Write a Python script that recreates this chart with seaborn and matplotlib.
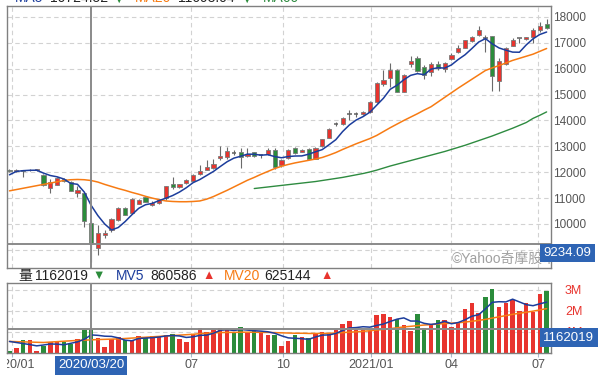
import numpy as np
import pandas as pd
import matplotlib
matplotlib.use("Agg")
import matplotlib.pyplot as plt
import matplotlib.transforms as mtransforms
import seaborn as sns

# Weekly TAIEX candles, week of 2019/12/27 .. 2021/07/09
opens = [12090, 12030, 12060, 12070, 12080, 11900, 11380, 11520, 11750, 11620,
         11200, 11200, 10050, 9070, 9590, 9770, 10140, 10610, 10410, 10770,
         11030, 10740, 10820, 10990, 11530, 11410, 11590, 11670, 11950, 12080,
         12150, 12540, 12590, 12750, 12770, 12615, 12770, 12650, 12690, 12850,
         12260, 12540, 12950, 12800, 12900, 12530, 13000, 13335, 13860, 13850,
         14240, 14240, 14260, 14320, 14700, 15400, 15630, 15960, 15115, 16165,
         16425, 16050, 15860, 16180, 15990, 16370, 16630, 16810, 17065, 17320,
         17190, 17250, 15510, 16180, 16890, 17170, 17140, 17240, 17475, 17720]
highs = [12130, 12130, 12090, 12110, 12130, 11940, 11720, 11830, 11780, 11650,
         11450, 11250, 10100, 9950, 9770, 10230, 10650, 10640, 11000, 10970,
         11060, 10890, 10960, 11470, 11800, 11560, 11720, 11940, 12260, 12480,
         12500, 13030, 12970, 12840, 12950, 12950, 12800, 12720, 12950, 12950,
         12520, 12900, 12980, 12890, 12950, 12960, 13300, 13700, 13950, 14120,
         14420, 14330, 14360, 14740, 15480, 15960, 16220, 16000, 15800, 16475,
         16480, 16150, 16260, 16300, 16260, 16600, 16900, 17120, 17280, 17630,
         17320, 17250, 16410, 16850, 17200, 17200, 17230, 17580, 17810, 17920]
lows = [12010, 12000, 11820, 12040, 12050, 11460, 11180, 11500, 11640, 11270,
        11060, 9880, 8520, 8810, 9470, 9680, 10120, 10330, 10390, 10760,
        10850, 10710, 10770, 10940, 11340, 11390, 11560, 11650, 11880, 12070,
        12130, 12490, 12530, 12680, 12150, 12580, 12600, 12550, 12660, 12140,
        12200, 12510, 12720, 12770, 12500, 12500, 12980, 13320, 13780, 13830,
        14030, 14140, 14220, 14300, 14680, 15350, 15280, 15080, 15090, 16050,
        15880, 15600, 15700, 15950, 15860, 16350, 16600, 16780, 17040, 17270,
        16630, 15150, 15150, 16150, 16870, 17000, 17120, 17010, 17420, 17550]
closes = [12040, 12100, 12050, 12090, 12110, 11500, 11620, 11780, 11680, 11290,
          11320, 10130, 9234.09, 9670, 9660, 10180, 10600, 10350, 10970, 10920,
          10860, 10830, 10920, 11460, 11420, 11530, 11690, 11900, 12050, 12200,
          12310, 12640, 12820, 12750, 12570, 12720, 12620, 12650, 12850, 12200,
          12490, 12850, 12740, 12870, 12530, 12950, 13280, 13680, 13860, 14100,
          14240, 14240, 14330, 14700, 15450, 15580, 15960, 15115, 15760, 16295,
          15910, 15760, 16180, 16040, 16220, 16525, 16810, 17090, 17240, 17475,
          17190, 15700, 16300, 16810, 17100, 17170, 17215, 17475, 17650, 17580]

ma5 = [11900, 12030, 12060, 12075, 12078, 11967, 11873, 11823, 11737, 11569,
       11534, 11234, 10724, 10325, 10001, 9769, 9864, 10091, 10356, 10604,
       10744, 10796, 10906, 10996, 11100, 11234, 11400, 11596, 11718, 11874,
       12030, 12220, 12404, 12544, 12617, 12699, 12694, 12658, 12678, 12605,
       12559, 12606, 12626, 12630, 12696, 12788, 12874, 13062, 13258, 13572,
       13828, 14018, 14148, 14318, 14588, 14858, 15204, 15361, 15573, 15742,
       15808, 15768, 15981, 16037, 16022, 16145, 16355, 16537, 16777, 17028,
       17161, 16959, 16801, 16715, 16640, 16635, 16918, 17153, 17321, 17416]
ma20 = [11280, 11330, 11380, 11430, 11480, 11530, 11580, 11630, 11680, 11710,
        11720, 11710, 11680, 11620, 11530, 11450, 11370, 11300, 11220, 11150,
        11070, 11000, 10940, 10890, 10870, 10860, 10860, 10870, 10890, 10960,
        11060, 11180, 11300, 11430, 11560, 11690, 11800, 11920, 12030, 12140,
        12230, 12300, 12360, 12410, 12460, 12510, 12570, 12660, 12760, 12880,
        12990, 13100, 13200, 13300, 13420, 13570, 13720, 13860, 14000, 14130,
        14260, 14400, 14530, 14710, 14890, 15070, 15250, 15420, 15590, 15760,
        15930, 16030, 16120, 16220, 16320, 16400, 16480, 16560, 16670, 16780]
ma60_start = 36
ma60 = [11370, 11400, 11430, 11460, 11490, 11520, 11550, 11580, 11610, 11640,
        11680, 11720, 11760, 11800, 11850, 11900, 11950, 12010, 12080, 12160,
        12240, 12310, 12380, 12450, 12520, 12590, 12660, 12730, 12800, 12880,
        12960, 13040, 13130, 13220, 13310, 13400, 13500, 13600, 13700, 13810,
        13920, 14080, 14200, 14330]

# weekly volume, millions
volume = [0.11, 0.23, 0.63, 0.63, 0.10, 0.31, 0.50, 0.56, 0.50, 0.44,
          0.66, 1.11, 1.162019, 0.73, 0.27, 0.66, 0.76, 0.63, 0.60, 0.82,
          0.76, 0.82, 0.79, 0.85, 0.92, 0.66, 0.50, 0.92, 1.19, 0.98,
          1.11, 1.19, 1.08, 0.98, 1.24, 0.95, 1.03, 0.98, 0.87, 0.87,
          0.34, 0.55, 0.87, 0.76, 0.71, 0.92, 0.98, 0.95, 1.11, 1.40,
          1.50, 1.11, 1.11, 1.03, 1.79, 1.85, 1.73, 1.63, 1.35, 1.03,
          1.84, 1.19, 1.40, 1.56, 1.56, 1.24, 1.47, 2.08, 2.40, 1.89,
          2.65, 3.05, 2.21, 2.37, 2.53, 2.00, 2.40, 1.95, 2.80, 2.97]
vol_ma5 = [0.55, 0.50, 0.45, 0.40, 0.34, 0.38, 0.43, 0.42, 0.39, 0.46,
           0.53, 0.65, 0.86, 0.84, 0.80, 0.79, 0.72, 0.61, 0.58, 0.69,
           0.71, 0.73, 0.76, 0.81, 0.83, 0.81, 0.74, 0.77, 0.84, 0.85,
           0.94, 1.08, 1.11, 1.07, 1.12, 1.09, 1.06, 1.04, 1.01, 0.94,
           0.82, 0.72, 0.70, 0.68, 0.65, 0.76, 0.85, 0.86, 0.93, 1.07,
           1.19, 1.21, 1.25, 1.23, 1.31, 1.38, 1.50, 1.61, 1.67, 1.52,
           1.52, 1.41, 1.36, 1.40, 1.51, 1.39, 1.45, 1.58, 1.75, 1.82,
           2.10, 2.41, 2.44, 2.43, 2.56, 2.43, 2.30, 2.25, 2.34, 2.42]
vol_ma20 = [0.55, 0.54, 0.53, 0.52, 0.51, 0.50, 0.52, 0.54, 0.56, 0.58,
            0.60, 0.61, 0.625, 0.64, 0.65, 0.66, 0.67, 0.69, 0.71, 0.73,
            0.75, 0.77, 0.79, 0.81, 0.83, 0.85, 0.87, 0.89, 0.92, 0.94,
            0.96, 0.97, 0.98, 0.98, 0.99, 0.99, 0.99, 0.98, 0.98, 0.97,
            0.96, 0.95, 0.94, 0.94, 0.93, 0.93, 0.93, 0.94, 0.95, 0.97,
            0.99, 1.01, 1.03, 1.06, 1.09, 1.12, 1.16, 1.20, 1.24, 1.27,
            1.30, 1.33, 1.35, 1.38, 1.40, 1.42, 1.44, 1.47, 1.51, 1.55,
            1.60, 1.66, 1.72, 1.78, 1.84, 1.89, 1.94, 1.99, 2.05, 2.11]

tick_labels = ["2020/01", "07", "10", "2021/01", "04", "07"]
tick_pos = [0.32, 26.7, 40.2, 53.2, 65.0, 77.8]
cross_week = 12
cross_date = "2020/03/20"

RED = "#e8342e"
GREEN = "#2b8c3b"
GRAY = "#606060"
BLUE = "#1c3d9c"
ORANGE = "#f77b13"
MA60_GREEN = "#2e8b40"
BOX = "#2e64b4"
GRID = "#d2d2d2"
FRAME = "#808080"

sns.set_theme(style="white")
plt.rcParams["font.family"] = ["Liberation Sans", "Noto Sans CJK TC", "DejaVu Sans"]

df = pd.DataFrame({"open": opens, "high": highs, "low": lows,
                   "close": closes, "vol": volume})
idx = np.arange(len(df))
up = (df.close > df.open).values
down = (df.close < df.open).values
flat = ~(up | down)
prev = df.close.shift(1).fillna(df.close.iloc[0]).values
cand_col = np.where(up, RED, GREEN)
vol_col = np.where(up, RED, np.where(down, GREEN,
                   np.where(df.close.values >= prev, RED, GREEN)))

W, H = 600, 385
fig = plt.figure(figsize=(W / 100, H / 100), dpi=100)
L, R = 7.3, 550.7
ax = fig.add_axes([L / W, 1 - 268 / H, (R - L) / W, (268 - 5.7) / H])
axv = fig.add_axes([L / W, 1 - 353 / H, (R - L) / W, (353 - 283) / H])

# ---- price panel
ax.vlines(idx, df.low, df.high, color="#6a6a6a", lw=0.8, zorder=2)
body_lo = np.minimum(df.open, df.close).values
body_h = np.maximum(np.abs(df.close - df.open).values, 20)
ax.bar(idx[~flat], body_h[~flat], bottom=body_lo[~flat], width=0.62,
       color=cand_col[~flat], edgecolor="#7a7a7a", lw=0.6, zorder=3)
ax.hlines(df.close[flat], idx[flat] - 0.33, idx[flat] + 0.33,
          color=GRAY, lw=1.1, zorder=3)

sns.lineplot(x=idx, y=ma20, ax=ax, color=ORANGE, lw=1.1, zorder=4)
sns.lineplot(x=idx[ma60_start:], y=ma60, ax=ax, color=MA60_GREEN, lw=1.0, zorder=4)
sns.lineplot(x=idx, y=ma5, ax=ax, color=BLUE, lw=1.1, zorder=4)

ax.set_xlim(-0.32, 79.6)
ax.set_ylim(8300, 18433)
yt = list(range(9000, 18001, 1000))
ax.set_yticks(yt)
# the 9000 label sits under the crosshair price box
ax.set_yticklabels(["" if v == 9000 else str(v) for v in yt])
ax.yaxis.tick_right()
ax.tick_params(axis="y", length=0, pad=1.7, labelsize=8.5, labelcolor="#555555")
ax.set_xticks(tick_pos)
ax.tick_params(axis="x", length=0, labelbottom=False)
ax.grid(True, color=GRID, ls=(0, (4, 3)), lw=0.8)
ax.set_xlabel("")
ax.set_ylabel("")

# ---- volume panel
axv.bar(idx, df.vol, width=0.66, color=vol_col, lw=0, zorder=2)
sns.lineplot(x=idx, y=vol_ma20, ax=axv, color=ORANGE, lw=1.1, zorder=4)
sns.lineplot(x=idx, y=vol_ma5, ax=axv, color=BLUE, lw=1.1, zorder=4)
axv.set_xlim(-0.32, 79.6)
axv.set_ylim(0, 3.33)
axv.set_yticks([1, 2, 3])
axv.set_yticklabels(["1M", "2M", "3M"])
axv.yaxis.tick_right()
axv.tick_params(axis="y", length=0, pad=10.3, labelsize=9, labelcolor=RED)
axv.set_xticks(tick_pos)
axv.set_xticklabels(tick_labels)
axv.tick_params(axis="x", length=3, width=0.8, color="#a9b9cc", pad=1.5,
                labelsize=9, labelcolor="#555555", bottom=True)
axv.grid(True, color=GRID, ls=(0, (4, 3)), lw=0.8)
axv.set_xlabel("")
axv.set_ylabel("")

# first date label is clipped at the panel's left edge
clip = mtransforms.TransformedBbox(
    mtransforms.Bbox([[L / W, 0], [1, 1]]), fig.transFigure)
first = axv.get_xticklabels()[0]
first.set_clip_box(clip)
first.set_clip_on(True)

for a in (ax, axv):
    for s in a.spines.values():
        s.set_color(FRAME)
        s.set_linewidth(1.0)

# ---- crosshair
cross_price = closes[cross_week]
cross_vol = volume[cross_week]
for a in (ax, axv):
    a.axvline(cross_week, color="#8a8a8a", lw=1.4, zorder=6)
ax.axhline(cross_price, color="#8a8a8a", lw=1.4, zorder=6)
axv.axhline(cross_vol, color="#8a8a8a", lw=1.4, zorder=6)

ax.text(452 / W, 1 - 259 / H, "©Yahoo奇摩股市", transform=fig.transFigure,
        fontsize=10, color="#a0a0a0", ha="left", va="center", zorder=7, clip_on=False)

box = dict(boxstyle="square,pad=0.25", fc=BOX, ec="none")
bl = mtransforms.blended_transform_factory(ax.transAxes, ax.transData)
ax.annotate(f"{cross_price:.2f}", xy=(1, cross_price), xycoords=bl,
            xytext=(-5.3, -2.2), textcoords="offset points", ha="left", va="top",
            fontsize=9.5, color="white", bbox=box, zorder=10,
            annotation_clip=False, clip_on=False)
blv = mtransforms.blended_transform_factory(axv.transAxes, axv.transData)
axv.annotate(f"{round(cross_vol * 1e6)}", xy=(1, cross_vol), xycoords=blv,
             xytext=(-5.3, -2.2), textcoords="offset points", ha="left", va="top",
             fontsize=9.5, color="white", bbox=box, zorder=10,
             annotation_clip=False, clip_on=False)
bld = mtransforms.blended_transform_factory(axv.transData, axv.transAxes)
axv.annotate(cross_date, xy=(cross_week, 0), xycoords=bld,
             xytext=(0, -4.5), textcoords="offset points", ha="center", va="top",
             fontsize=9.5, color="white", bbox=box, zorder=10,
             annotation_clip=False, clip_on=False)


def ftxt(x, y, s, **kw):
    fig.text(x / W, 1 - y / H, s, **kw)


# volume header row
hy = 276
ftxt(18, hy, "量", fontsize=10, color="#222222", va="center")
ftxt(35, hy, "1162019", fontsize=10, color="#222222", va="center")
ftxt(92, hy, "▼", fontsize=9, color=GREEN, va="center")
ftxt(116, hy, "MV5", fontsize=10, color=BLUE, va="center")
ftxt(150, hy, "860586", fontsize=10, color="#222222", va="center")
ftxt(202, hy, "▲", fontsize=9, color=RED, va="center")
ftxt(224, hy, "MV20", fontsize=10, color=ORANGE, va="center")
ftxt(264, hy, "625144", fontsize=10, color="#222222", va="center")
ftxt(320, hy, "▲", fontsize=9, color=RED, va="center")

# price header row, cut off by the top edge
ty = 2.5
ftxt(15, ty, "MA5", fontsize=10, color=BLUE, va="baseline")
ftxt(50, ty, "10724.52", fontsize=10, color="#222222", va="baseline")
ftxt(112, ty, "▼", fontsize=9, color=GREEN, va="baseline")
ftxt(135, ty, "MA20", fontsize=10, color=ORANGE, va="baseline")
ftxt(178, ty, "11693.04", fontsize=10, color="#222222", va="baseline")
ftxt(240, ty, "▼", fontsize=9, color=GREEN, va="baseline")
ftxt(263, ty, "MA60", fontsize=10, color=MA60_GREEN, va="baseline")

fig.savefig("out.png", dpi=100)
